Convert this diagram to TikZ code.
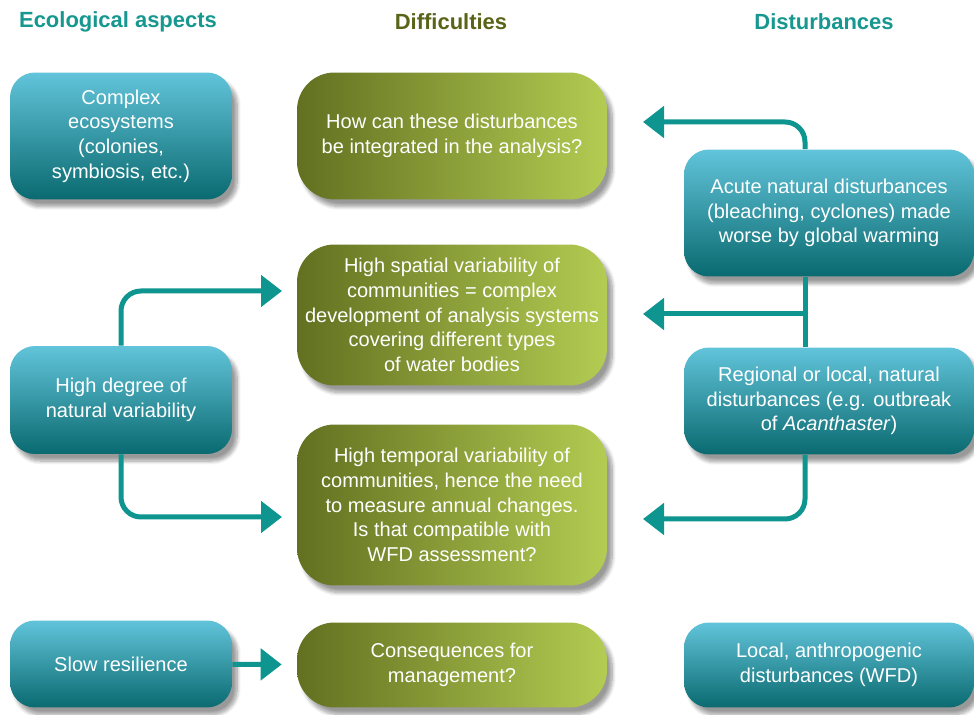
\documentclass[tikz,border=0pt]{standalone}
\usepackage{fontspec}
\setmainfont{Liberation Sans}
\usetikzlibrary{arrows.meta,shadows.blur}
\definecolor{tealtop}{HTML}{62C4DA}
\definecolor{tealmid}{HTML}{0B9DA6}
\definecolor{tealbot}{HTML}{0A6A70}
\definecolor{oliveleft}{HTML}{627020}
\definecolor{oliveright}{HTML}{B3CC52}
\definecolor{headteal}{HTML}{16978F}
\definecolor{headolive}{HTML}{5A6418}
\definecolor{arrowteal}{HTML}{0E9590}
\begin{document}
\begin{tikzpicture}[x=0.02cm,y=-0.02cm,
	heading/.style={font=\fontsize{12.5}{15}\selectfont\bfseries},
	aspect/.style={rounded corners=0.5cm,top color=tealtop,middle color=tealmid,bottom color=tealbot,
		text=white,align=center,inner sep=0pt,font=\fontsize{11.4}{14}\selectfont,
		blur shadow={shadow xshift=3pt,shadow yshift=-4pt,shadow blur steps=8}},
	difficulty/.style={rounded corners=0.75cm,left color=oliveleft,right color=oliveright,
		text=white,align=center,inner sep=0pt,font=\fontsize{11.4}{14}\selectfont,
		minimum width=6.2cm,
		blur shadow={shadow xshift=3pt,shadow yshift=-4pt,shadow blur steps=8}},
	flow/.style={arrowteal,line width=0.1cm,rounded corners=0.4cm,-{Triangle[length=0.42cm,width=0.62cm]}},
	link/.style={arrowteal,line width=0.1cm}]
		\useasboundingbox (0,0) rectangle (974,715);
		% headings
		\node[heading,text=headteal] (hecol) at (118,22) {Ecological aspects};
		\node[heading,text=headolive] (hdiff) at (451,22) {Difficulties};
		\node[heading,text=headteal] (hdist) at (824,22) {Disturbances};
		% ecological aspects
		\node[aspect,minimum width=4.44cm,minimum height=2.54cm] (complex) at (121,136)
			{Complex\\ecosystems\\(colonies,\\symbiosis, etc.)};
		\node[aspect,minimum width=4.44cm,minimum height=2.16cm] (degree) at (121,400)
			{High degree of\\natural variability};
		\node[aspect,minimum width=4.44cm,minimum height=1.74cm] (resil) at (121,664)
			{Slow resilience};
		% difficulties
		\node[difficulty,minimum height=2.54cm] (integr) at (452,136)
			{How can these disturbances\\be integrated in the analysis?};
		\node[difficulty,minimum height=2.82cm] (spatial) at (452,315)
			{High spatial variability of\\communities = complex\\development of analysis systems\\covering different types\\of water bodies};
		\node[difficulty,minimum height=3.22cm] (temporal) at (452,505)
			{High temporal variability of\\communities, hence the need\\to measure annual changes.\\Is that compatible with\\WFD assessment?};
		\node[difficulty,minimum height=1.70cm] (mgmt) at (452,665)
			{Consequences for\\management?};
		% disturbances
		\node[aspect,minimum width=5.8cm,minimum height=2.54cm] (acute) at (829,213)
			{Acute natural disturbances\\(bleaching, cyclones) made\\worse by global warming};
		\node[aspect,minimum width=5.8cm,minimum height=2.14cm] (regional) at (829,401)
			{Regional or local, natural\\disturbances (e.g. outbreak\\of \textit{Acanthaster})};
		\node[aspect,minimum width=5.8cm,minimum height=1.70cm] (local) at (829,665)
			{Local, anthropogenic\\disturbances (WFD)};
		% arrow ends
		\coordinate (rx) at (805,0);
		\coordinate (tinteg) at (643,122);
		\coordinate (tspatr) at (643,314);
		\coordinate (ttempr) at (643,519);
		\coordinate (tspatl) at (282,291);
		\coordinate (ttempl) at (282,517);
		% connect them
		\draw[flow] (acute.north -| rx) |- (tinteg);
		\draw[link] (acute.south -| rx) -- (regional.north -| rx);
		\draw[flow] (rx |- tspatr) -- (tspatr);
		\draw[flow] (regional.south -| rx) |- (ttempr);
		\draw[flow] (degree.north) |- (tspatl);
		\draw[flow] (degree.south) |- (ttempl);
		\draw[flow,shorten >=0.3cm] (resil) -- (mgmt);
	\end{tikzpicture}
\end{document}
